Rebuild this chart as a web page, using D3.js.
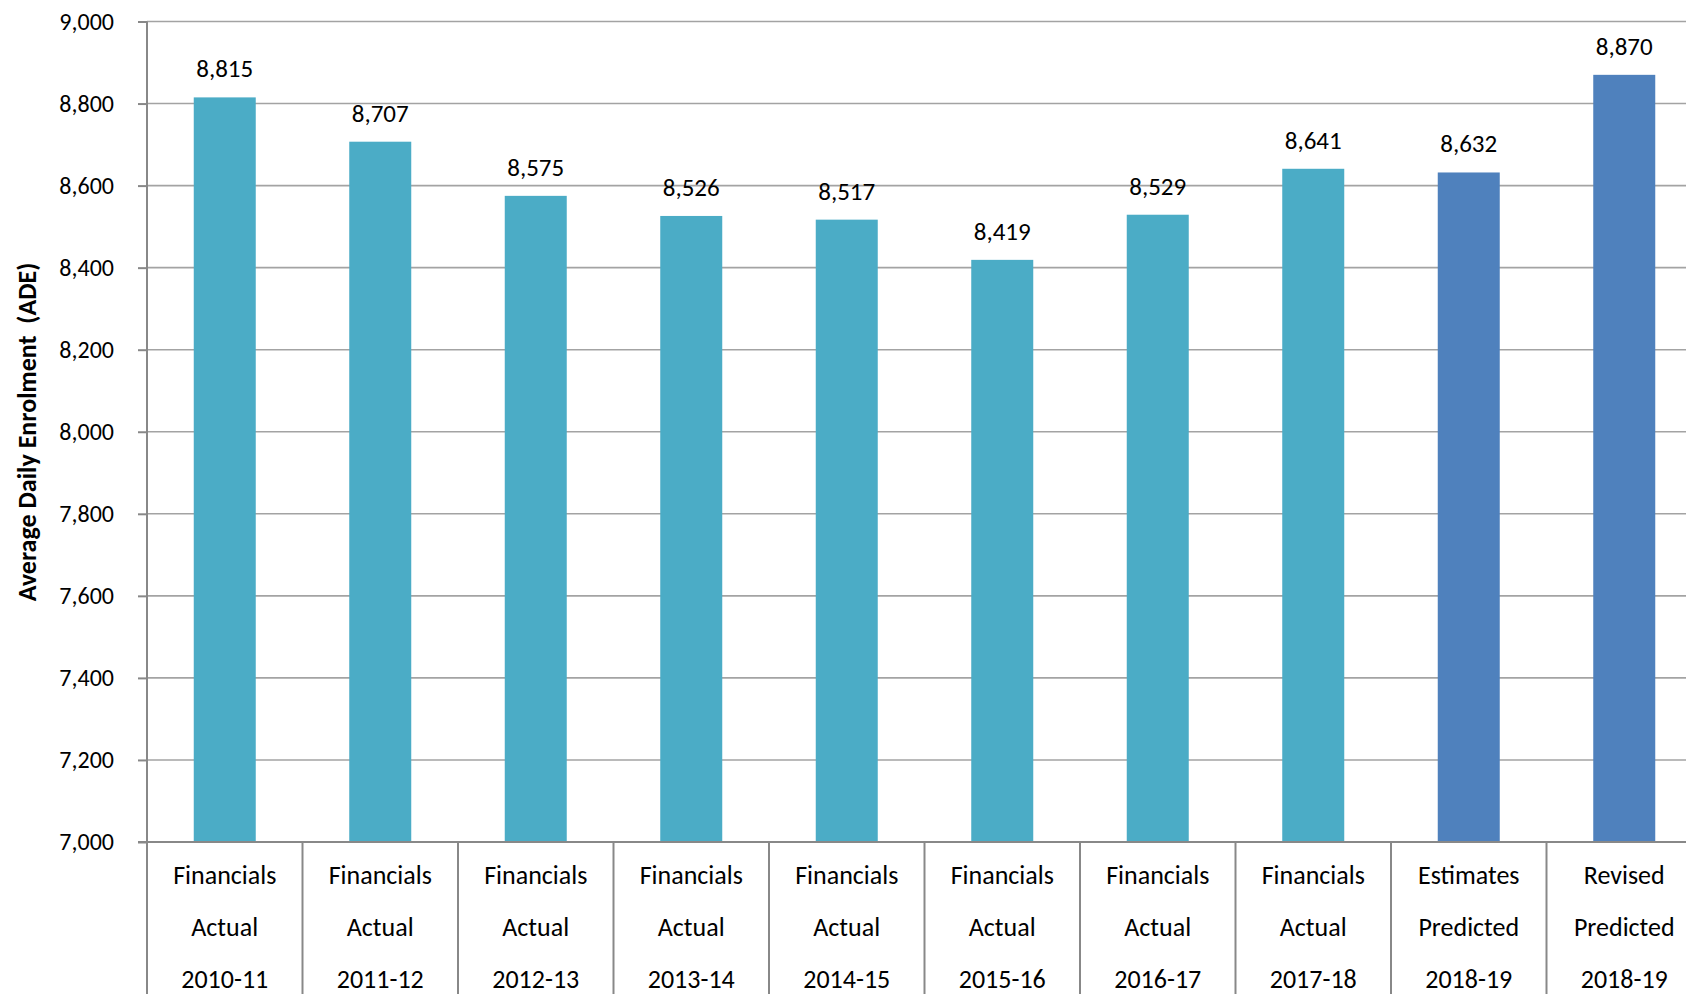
<!DOCTYPE html>
<html>
<head>
<meta charset="utf-8">
<script src="https://cdn.jsdelivr.net/npm/d3@7"></script>
<style>
  html, body { margin: 0; padding: 0; background: #fff; }
  svg { display: block; font-family: Carlito, Calibri, Lato, sans-serif; }
</style>
</head>
<body>
<svg id="chart" width="1686" height="994"></svg>
<script>
const sources = ["Financials", "Financials", "Financials", "Financials", "Financials", "Financials", "Financials", "Financials", "Estimates", "Revised"];
const kinds = ["Actual", "Actual", "Actual", "Actual", "Actual", "Actual", "Actual", "Actual", "Predicted", "Predicted"];
const years = ["2010-11", "2011-12", "2012-13", "2013-14", "2014-15", "2015-16", "2016-17", "2017-18", "2018-19", "2018-19"];
const values = [8815, 8707, 8575, 8526, 8517, 8419, 8529, 8641, 8632, 8870];
const yTicks = [7000, 7200, 7400, 7600, 7800, 8000, 8200, 8400, 8600, 8800, 9000];
const yTitle = "Average Daily Enrolment  (ADE)";

(function () {
const categories = values.map((v, i) => i);
const colorFor = i => kinds[i] === "Predicted" ? "#4F81BD" : "#4BACC6";
const FONT = "Carlito, Calibri, Lato, sans-serif";

const svg = d3.select("#chart");
const plotLeft = 147, stepW = 155.5, plotTop = 21.5, plotBottom = 842;

const x = d3.scaleBand().domain(categories).range([plotLeft, plotLeft + stepW * categories.length]).paddingInner(0).paddingOuter(0);
const y = d3.scaleLinear().domain([7000, 9000]).range([plotBottom, plotTop]);

// gridlines
svg.append("g").selectAll("line").data(yTicks.filter(t => t !== 7000)).join("line")
  .attr("x1", plotLeft).attr("x2", 1686)
  .attr("y1", d => y(d)).attr("y2", d => y(d))
  .attr("stroke", "#a3a3a3").attr("stroke-width", 1.6);

// y axis
const yAxis = d3.axisLeft(y).tickValues(yTicks).tickFormat(d3.format(",")).tickSize(9).tickPadding(24);
const gy = svg.append("g").attr("transform", `translate(${plotLeft},0)`).call(yAxis);
gy.select(".domain").remove();
gy.selectAll(".tick line").attr("stroke", "#888").attr("stroke-width", 2);
gy.selectAll(".tick text").attr("font-size", 24).attr("fill", "#000").attr("font-family", FONT);

// bars
const barW = 62;
svg.append("g").selectAll("rect").data(categories).join("rect")
  .attr("x", i => x(i) + x.bandwidth() / 2 - barW / 2)
  .attr("width", barW)
  .attr("y", i => y(values[i]))
  .attr("height", i => y(7000) - y(values[i]))
  .attr("fill", i => colorFor(i));

// value labels
svg.append("g").selectAll("text").data(categories).join("text")
  .attr("x", i => x(i) + x.bandwidth() / 2)
  .attr("y", i => y(values[i]) - 20)
  .attr("text-anchor", "middle")
  .attr("font-size", 25)
  .attr("fill", "#000")
  .text(i => d3.format(",")(values[i]));

// y axis line (extends below into category area)
svg.append("line").attr("x1", plotLeft).attr("x2", plotLeft).attr("y1", plotTop).attr("y2", 994)
  .attr("stroke", "#888").attr("stroke-width", 2);

// x axis baseline
svg.append("line").attr("x1", plotLeft - 9).attr("x2", 1686).attr("y1", plotBottom).attr("y2", plotBottom)
  .attr("stroke", "#888").attr("stroke-width", 2);

// category separators
svg.append("g").selectAll("line").data(categories.slice(1)).join("line")
  .attr("x1", i => x(i)).attr("x2", i => x(i))
  .attr("y1", plotBottom).attr("y2", 994)
  .attr("stroke", "#888").attr("stroke-width", 2);

// category labels
const rows = [sources, kinds, years];
const rowY = [884, 936, 988];
rows.forEach((arr, r) => {
  svg.append("g").selectAll("text").data(categories).join("text")
    .attr("x", i => x(i) + x.bandwidth() / 2)
    .attr("y", rowY[r])
    .attr("text-anchor", "middle")
    .attr("font-size", 26)
    .attr("fill", "#000")
    .text(i => arr[i]);
});

// y title
svg.append("text")
  .attr("transform", `translate(36,432) rotate(-90)`)
  .attr("text-anchor", "middle")
  .attr("font-size", 26)
  .attr("font-weight", "bold")
  .attr("fill", "#000")
  .style("white-space", "pre")
  .text(yTitle);
})();
</script>
</body>
</html>
